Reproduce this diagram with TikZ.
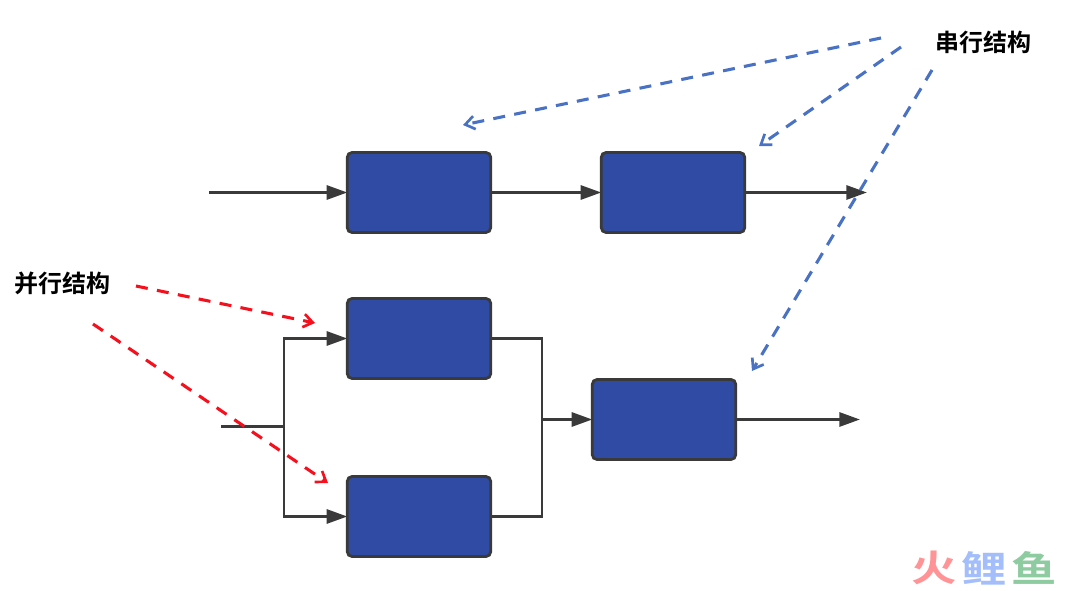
\documentclass[tikz,border=0pt]{standalone}
\usepackage{fontspec}
\usetikzlibrary{arrows.meta,calc}
\newfontfamily\cjk{Noto Sans CJK SC}[BoldFont={* Bold}]
\definecolor{boxblue}{HTML}{2F4BA3}
\definecolor{edge}{HTML}{3A3A3A}
\definecolor{dashblue}{HTML}{4A72C4}
\definecolor{dashred}{HTML}{F5101E}
\definecolor{wmred}{HTML}{FF9396}
\definecolor{wmblue}{HTML}{A3BEFA}
\definecolor{wmgreen}{HTML}{8FCBA0}
\tikzset{
  x=0.75pt,y=-0.75pt,
  block/.style={draw=edge,fill=boxblue,line width=2.1pt,rounded corners=3.5pt,minimum width=107.5pt,minimum height=60pt,inner sep=0pt,outer sep=0pt},
  flow/.style={draw=edge,line width=2.2pt},
  flowa/.style={flow,-{Triangle[length=15.5pt,width=10.5pt]}},
  blued/.style={draw=dashblue,line width=2.3pt,dash pattern=on 9pt off 7pt,-{Straight Barb[length=7pt,width=10pt,line width=2pt]}},
  redd/.style={draw=dashred,line width=2.3pt,dash pattern=on 9pt off 7pt,-{Straight Barb[length=7pt,width=10pt,line width=2pt]}},
  lab/.style={font=\cjk\bfseries\fontsize{18pt}{20pt}\selectfont,text=black,inner sep=0pt},
  wm/.style={font=\cjk\bfseries\fontsize{34pt}{36pt}\selectfont,inner sep=0pt,yscale=.8},
}
\begin{document}
\begin{tikzpicture}
\useasboundingbox (0,0) rectangle (1080,591);
\node[block] (a) at (419,192.5) {};
\node[block] (b) at (673,192.5) {};
\node[block] (c) at (419,338.5) {};
\node[block] (d) at (419,516.5) {};
\node[block] (e) at (664,419.5) {};
\coordinate (in1) at (209,192.5);
\coordinate (out1) at (867,192.5);
\coordinate (in2) at (221,426.5);
\coordinate (split) at (284,426.5);
\coordinate (merge) at (542,419.5);
\coordinate (out2) at (860,419.5);
\draw[flowa] (in1) -- (a.west);
\draw[flowa] (a.east) -- (b.west);
\draw[flowa] (b.east) -- (out1);
\draw[flow] (in2) -- (split);
\draw[flowa] (split) |- (c.west);
\draw[flowa] (split) |- (d.west);
\draw[flow] (c.east) -| (merge);
\draw[flow] (d.east) -| (merge);
\draw[flowa] (merge) -- (e.west);
\draw[flowa] (e.east) -- (out2);
\node[lab,anchor=center] (ser) at (983,42.5) {串行结构};
\node[lab,anchor=center] (par) at (62,283.5) {并行结构};
\coordinate (s1) at (881,38);
\coordinate (s1e) at (463,125);
\coordinate (s2) at (901,47);
\coordinate (s2e) at (759,146);
\coordinate (s3) at (932,70);
\coordinate (s3e) at (752,371);
\coordinate (p1) at (136,286);
\coordinate (p1e) at (315,323);
\coordinate (p2) at (93,324);
\coordinate (p2e) at (328,483);
\draw[blued] (s1) -- (s1e);
\draw[blued] (s2) -- (s2e);
\draw[blued] (s3) -- (s3e);
\draw[redd] (p1) -- (p1e);
\draw[redd] (p2) -- (p2e);
\node[wm,text=wmred] (w1) at (934,568) {火};
\node[wm,text=wmblue] (w2) at (984,568) {鲤};
\node[wm,text=wmgreen] (w3) at (1034,568) {鱼};
\end{tikzpicture}
\end{document}
